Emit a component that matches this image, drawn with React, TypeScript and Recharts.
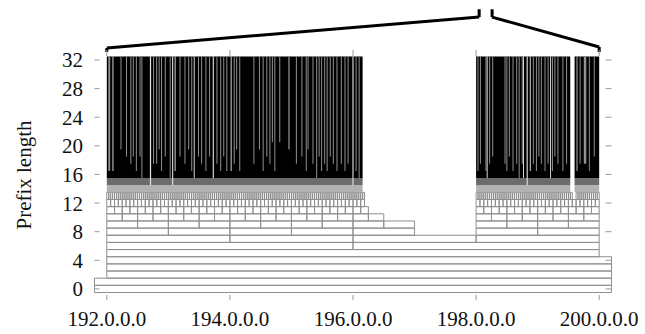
import { ComposedChart, XAxis, YAxis, ReferenceArea, ReferenceLine, Label, Scatter } from "recharts";

// address space shown in units of one /8 (192 = 192.0.0.0)
const X_MIN = 191.8;
const X_MAX = 200.2;
const Y_MIN = -1.55;
const Y_MAX = 33.4;

const xTicks = [192, 194, 196, 198, 200];
const yTicks = [0, 4, 8, 12, 16, 20, 24, 28, 32];

// prefix length, first address, end address: every prefix of that length inside the span is present
const treeSpans: [number, number, number][] = [
  [0, 0, 256], [1, 128, 256], [2, 192, 256], [3, 192, 224], [4, 192, 208],
  [5, 192, 200], [6, 192, 200], [7, 192, 200],
  [8, 192, 197], [8, 198, 200],
  [9, 192, 197], [9, 198, 200],
  [10, 192, 196.5], [10, 198, 200],
  [11, 192, 196.25], [11, 198, 200],
  [12, 192, 196.1875], [12, 198, 200],
  [13, 192, 196.1875], [13, 198, 199.5625], [13, 199.625, 200],
];

// /14, /15 and /16../32 are too thin to separate: drawn as filled bands
const level14Spans: [number, number][] = [[192, 196.15625], [198, 199.53], [199.6, 200]];
const level15Spans: [number, number][] = [[192, 196.15625], [198, 199.53], [199.6, 200]];
const denseSpans: [number, number][] = [[192, 196.15625], [198, 199.53], [199.6, 200]];
const denseFrom = 16;
const denseTo = 32;

// holes in the dense part: address, width, lowest prefix length reached, kind
const gaps: [number, number, number, string][] = [
  [192.04, 0.03, 17, "sparse"], [192.10, 0.015, 17, "empty"], [192.23, 0.016, 20, "sparse"],
  [192.32, 0.016, 19, "sparse"], [192.39, 0.016, 18, "sparse"], [192.43, 0.016, 19, "sparse"],
  [192.48, 0.016, 17, "sparse"], [192.54, 0.016, 19, "sparse"], [192.57, 0.016, 16, "sparse"],
  [192.71, 0.02, 15, "empty"], [192.76, 0.016, 18, "sparse"], [192.81, 0.016, 18, "sparse"],
  [192.85, 0.016, 20, "sparse"], [192.89, 0.016, 17, "sparse"], [192.95, 0.016, 19, "sparse"],
  [193.03, 0.016, 16, "sparse"], [193.07, 0.018, 15, "empty"], [193.11, 0.015, 17, "empty"],
  [193.19, 0.016, 19, "sparse"], [193.27, 0.016, 18, "sparse"], [193.33, 0.016, 20, "sparse"],
  [193.38, 0.016, 17, "sparse"], [193.42, 0.015, 16, "empty"], [193.49, 0.016, 19, "sparse"],
  [193.54, 0.016, 18, "sparse"], [193.61, 0.016, 17, "sparse"], [193.67, 0.016, 19, "sparse"],
  [193.73, 0.018, 16, "empty"], [193.79, 0.016, 18, "sparse"], [193.85, 0.016, 17, "sparse"],
  [193.90, 0.016, 19, "sparse"], [193.95, 0.016, 17, "sparse"], [194.02, 0.015, 17, "empty"],
  [194.07, 0.016, 18, "sparse"], [194.11, 0.016, 20, "sparse"], [194.16, 0.016, 17, "sparse"],
  [194.39, 0.016, 18, "sparse"], [194.48, 0.016, 20, "sparse"], [194.54, 0.016, 17, "sparse"],
  [194.60, 0.016, 19, "sparse"], [194.65, 0.016, 18, "sparse"], [194.69, 0.016, 21, "sparse"],
  [194.73, 0.016, 17, "sparse"], [194.81, 0.016, 21, "sparse"], [194.96, 0.02, 20, "sparse"],
  [195.08, 0.016, 18, "sparse"], [195.17, 0.016, 19, "sparse"], [195.24, 0.016, 17, "sparse"],
  [195.27, 0.016, 20, "sparse"], [195.35, 0.016, 18, "sparse"], [195.41, 0.016, 16, "sparse"],
  [195.45, 0.016, 19, "sparse"], [195.49, 0.016, 17, "sparse"], [195.54, 0.016, 18, "sparse"],
  [195.58, 0.016, 17, "sparse"], [195.63, 0.016, 19, "sparse"], [195.68, 0.016, 18, "sparse"],
  [195.74, 0.016, 17, "sparse"], [195.81, 0.016, 18, "sparse"], [195.87, 0.016, 17, "sparse"],
  [195.92, 0.016, 18, "sparse"], [196.00, 0.018, 15, "empty"], [196.05, 0.016, 17, "sparse"],
  [196.10, 0.016, 16, "sparse"],
  [198.03, 0.016, 17, "sparse"], [198.07, 0.016, 18, "sparse"], [198.16, 0.016, 17, "sparse"],
  [198.18, 0.015, 16, "empty"], [198.22, 0.016, 18, "sparse"], [198.27, 0.016, 19, "sparse"],
  [198.47, 0.016, 18, "sparse"], [198.50, 0.016, 17, "sparse"], [198.54, 0.016, 19, "sparse"],
  [198.60, 0.016, 17, "sparse"], [198.66, 0.016, 18, "sparse"], [198.70, 0.016, 16, "sparse"],
  [198.75, 0.016, 18, "sparse"], [198.77, 0.015, 16, "empty"], [198.83, 0.018, 15, "empty"],
  [198.88, 0.015, 17, "empty"], [198.93, 0.016, 18, "sparse"], [198.98, 0.016, 17, "sparse"],
  [199.02, 0.016, 19, "sparse"], [199.06, 0.016, 18, "sparse"], [199.12, 0.016, 17, "sparse"],
  [199.17, 0.016, 18, "sparse"], [199.21, 0.015, 16, "empty"], [199.24, 0.016, 17, "sparse"],
  [199.28, 0.016, 19, "sparse"], [199.33, 0.016, 18, "sparse"], [199.41, 0.016, 17, "sparse"],
  [199.47, 0.016, 18, "sparse"],
  [199.64, 0.02, 17, "sparse"], [199.69, 0.015, 18, "sparse"], [199.77, 0.04, 18, "sparse"],
  [199.84, 0.015, 17, "sparse"], [199.92, 0.016, 19, "sparse"],
];

// zoom bracket above the plot (address, height on the prefix-length scale)
const bracketLeft = [
  { x: 192, y: 33.12 }, { x: 192, y: 33.68 }, { x: 198.05, y: 38.0 }, { x: 198.05, y: 39.1 },
];
const bracketRight = [
  { x: 198.26, y: 39.1 }, { x: 198.26, y: 38.0 }, { x: 200, y: 33.82 }, { x: 200, y: 33.12 },
];

const FONT = "'Liberation Serif', 'Times New Roman', serif";
const BOX_STROKE = "#8f8f8f";
const TICK_STROKE = "#999";
const gapFill: Record<string, string> = { empty: "#e4e4e4", sparse: "#929292" };

function buildBoxes() {
  const out: { level: number; x1: number; x2: number }[] = [];
  for (const [level, start, end] of treeSpans) {
    const step = 2 ** (8 - level);
    for (let s = start; s < end - 1e-9; s += step) {
      const x1 = Math.max(s, X_MIN);
      const x2 = Math.min(s + step, X_MAX);
      if (x2 > x1) out.push({ level, x1, x2 });
    }
  }
  return out;
}

// first prefix of each span, used only so the axes have a series to hang on
const anchors = treeSpans.map(([level, start]) => ({ x: Math.max(start, X_MIN), y: level }));

const NoShape = () => <g />;

// short inward tick drawn on the right edge of the plot
// eslint-disable-next-line @typescript-eslint/no-explicit-any
function RightTick(props: any) {
  const { x, y } = props;
  return <line x1={x - 6} x2={x} y1={y} y2={y} stroke={TICK_STROKE} strokeWidth={1} />;
}

export default function App() {
  const boxes = buildBoxes();
  const segs = (pts: { x: number; y: number }[]) =>
    pts.slice(1).map((p, i) => [pts[i], p] as [{ x: number; y: number }, { x: number; y: number }]);

  return (
    <div style={{ position: "absolute", left: 0, top: 0, width: 645, height: 334, background: "#fff" }}>
      <ComposedChart width={645} height={334} margin={{ top: 49, right: 13.5, bottom: 0, left: 0 }}>
        <XAxis
          dataKey="x"
          type="number"
          domain={[X_MIN, X_MAX]}
          ticks={xTicks}
          allowDataOverflow
          interval={0}
          height={34}
          axisLine={false}
          tickLine={{ stroke: TICK_STROKE }}
          tickSize={-5}
          tickMargin={16}
          tickFormatter={(v: number) => `${v}.0.0.0`}
          tick={{ fill: "#111", fontSize: 21, fontFamily: FONT }}
        />
        <XAxis
          xAxisId="top"
          dataKey="x"
          orientation="top"
          type="number"
          domain={[X_MIN, X_MAX]}
          ticks={xTicks}
          allowDataOverflow
          interval={0}
          height={1}
          axisLine={false}
          tickLine={{ stroke: TICK_STROKE }}
          tickSize={-6}
          tickFormatter={() => ""}
        />
        <YAxis
          dataKey="y"
          type="number"
          domain={[Y_MIN, Y_MAX]}
          ticks={yTicks}
          allowDataOverflow
          interval={0}
          width={94.5}
          axisLine={false}
          tickLine={{ stroke: TICK_STROKE }}
          tickSize={-5}
          tickMargin={16.5}
          tick={{ fill: "#111", fontSize: 21, fontFamily: FONT }}
        >
          <Label
            value="Prefix length"
            angle={-90}
            position="center"
            dx={-24}
            style={{ fill: "#111", fontSize: 21, fontFamily: FONT }}
          />
        </YAxis>
        <YAxis
          yAxisId="right"
          dataKey="y"
          orientation="right"
          type="number"
          domain={[Y_MIN, Y_MAX]}
          ticks={yTicks}
          allowDataOverflow
          interval={0}
          width={20}
          axisLine={false}
          tickLine={false}
          tickSize={0}
          tickMargin={0}
          tick={<RightTick />}
        />

        <Scatter data={anchors} dataKey="y" shape={NoShape} isAnimationActive={false} />
        <Scatter data={anchors} dataKey="y" xAxisId="top" yAxisId="right" shape={NoShape} isAnimationActive={false} />

        {boxes.map((b, i) => (
          <ReferenceArea
            key={`b${i}`}
            x1={b.x1}
            x2={b.x2}
            y1={b.level - 0.5}
            y2={b.level + 0.5}
            fill="none"
            fillOpacity={0}
            stroke={BOX_STROKE}
            strokeWidth={1}
            ifOverflow="visible"
          />
        ))}
        {level14Spans.map(([a, b], i) => (
          <ReferenceArea key={`l14${i}`} x1={a} x2={b} y1={13.5} y2={14.5} fill="#b2b2b2" fillOpacity={1} stroke="none" ifOverflow="visible" />
        ))}
        {level15Spans.map(([a, b], i) => (
          <ReferenceArea key={`l15${i}`} x1={a} x2={b} y1={14.5} y2={15.5} fill="#6c6c6c" fillOpacity={1} stroke="none" ifOverflow="visible" />
        ))}
        {denseSpans.map(([a, b], i) => (
          <ReferenceArea key={`d${i}`} x1={a} x2={b} y1={denseFrom - 0.5} y2={denseTo + 0.5} fill="#000" fillOpacity={1} stroke="none" ifOverflow="visible" />
        ))}
        {gaps.map(([x, w, low, kind], i) => (
          <ReferenceArea
            key={`g${i}`}
            x1={x - w / 2}
            x2={x + w / 2}
            y1={low - 0.5}
            y2={denseTo + 0.5}
            fill={gapFill[kind]}
            fillOpacity={1}
            stroke="none"
            ifOverflow="visible"
          />
        ))}

        {[...segs(bracketLeft), ...segs(bracketRight)].map((seg, i) => (
          <ReferenceLine key={`br${i}`} segment={seg} stroke="#000" strokeWidth={3} ifOverflow="visible" />
        ))}
      </ComposedChart>
    </div>
  );
}
